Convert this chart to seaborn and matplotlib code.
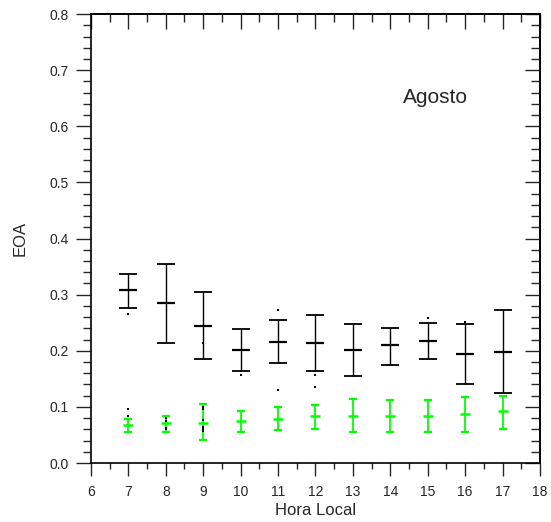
import numpy as np
import pandas as pd
import seaborn as sns
import matplotlib.pyplot as plt
from matplotlib.ticker import MultipleLocator

# hourly EOA for August: mean and error-bar limits
hours = [7, 8, 9, 10, 11, 12, 13, 14, 15, 16, 17]

black_mean = [0.308, 0.285, 0.244, 0.201, 0.216, 0.214, 0.201, 0.210, 0.217, 0.194, 0.197]
black_high = [0.337, 0.355, 0.304, 0.239, 0.254, 0.263, 0.247, 0.241, 0.249, 0.247, 0.272]
black_low = [0.276, 0.214, 0.185, 0.164, 0.178, 0.164, 0.155, 0.175, 0.185, 0.141, 0.124]

green_mean = [0.068, 0.071, 0.072, 0.075, 0.079, 0.083, 0.084, 0.084, 0.084, 0.087, 0.092]
green_high = [0.079, 0.084, 0.105, 0.093, 0.099, 0.104, 0.114, 0.112, 0.112, 0.117, 0.119]
green_low = [0.055, 0.055, 0.041, 0.056, 0.059, 0.061, 0.056, 0.055, 0.055, 0.055, 0.061]

# loose points scattered around the bars
dot_hours = [7, 9, 10, 11, 11, 12, 12, 15, 16,
             7, 7, 8, 8, 8, 8, 9, 9, 9, 9, 9, 9]
dot_values = [0.266, 0.213, 0.156, 0.272, 0.130, 0.156, 0.135, 0.258, 0.251,
              0.096, 0.083, 0.080, 0.075, 0.063, 0.060, 0.100, 0.096, 0.077, 0.065, 0.060, 0.057]

df_black = pd.DataFrame({"hora": hours, "eoa": black_mean})
df_green = pd.DataFrame({"hora": hours, "eoa": green_mean})
df_dots = pd.DataFrame({"hora": dot_hours, "eoa": dot_values})

sns.set_style("ticks")
plt.rcParams["font.family"] = ["Liberation Sans", "DejaVu Sans"]

fig = plt.figure(figsize=(5.51, 5.22), dpi=100)
ax = fig.add_axes([0.165, 0.113, 0.815, 0.860])

#black bars
ax.errorbar(hours, black_mean,
            yerr=[np.subtract(black_mean, black_low), np.subtract(black_high, black_mean)],
            fmt="none", ecolor="black", elinewidth=1.0, capsize=6.2, capthick=1.3)
sns.scatterplot(data=df_black, x="hora", y="eoa", marker="_", s=150, color="black",
                linewidth=1.6, ax=ax, zorder=3)

#green bars
ax.errorbar(hours, green_mean,
            yerr=[np.subtract(green_mean, green_low), np.subtract(green_high, green_mean)],
            fmt="none", ecolor="#00ff00", elinewidth=1.3, capsize=3.2, capthick=1.6)
sns.scatterplot(data=df_green, x="hora", y="eoa", marker="_", s=45, color="#00ff00",
                linewidth=1.8, ax=ax, zorder=3)

sns.scatterplot(data=df_dots, x="hora", y="eoa", marker="s", s=1.5, color="black",
                linewidth=0, ax=ax, zorder=4)

ax.set_xlim(6, 18)
ax.set_ylim(0, 0.8)
ax.xaxis.set_major_locator(MultipleLocator(1))
ax.xaxis.set_minor_locator(MultipleLocator(0.5))
ax.yaxis.set_major_locator(MultipleLocator(0.1))
ax.yaxis.set_minor_locator(MultipleLocator(0.02))
ax.yaxis.set_major_formatter(plt.FuncFormatter(lambda v, p: f"{v:.1f}"))

ax.tick_params(axis="x", which="both", bottom=True, top=False)
ax.tick_params(axis="y", which="both", left=True, right=False)
ax.tick_params(axis="x", which="major", direction="out", length=9.5, width=1.0, labelsize=10, pad=6)
ax.tick_params(axis="x", which="minor", direction="out", length=4.5, width=1.0)
ax.tick_params(axis="y", which="major", direction="out", length=10.8, width=1.0, labelsize=10, pad=5)
ax.tick_params(axis="y", which="minor", direction="out", length=5.8, width=1.0)

#ticks pointing inward on top and right
top = ax.secondary_xaxis("top")
top.xaxis.set_major_locator(MultipleLocator(1))
top.xaxis.set_minor_locator(MultipleLocator(0.5))
top.tick_params(which="both", top=True, labeltop=False)
top.tick_params(which="major", direction="in", length=11, width=1.0)
top.tick_params(which="minor", direction="in", length=5.8, width=1.0)
right = ax.secondary_yaxis("right")
right.yaxis.set_major_locator(MultipleLocator(0.1))
right.yaxis.set_minor_locator(MultipleLocator(0.02))
right.tick_params(which="both", right=True, labelright=False)
right.tick_params(which="major", direction="in", length=10.5, width=1.0)
right.tick_params(which="minor", direction="in", length=6.5, width=1.0)

for a in (ax, top, right):
    for s in a.spines.values():
        s.set_linewidth(1.2)
        s.set_color("black")
for side in ("top", "right"):
    ax.spines[side].set_visible(True)

ax.set_xlabel("Hora Local", fontsize=12, labelpad=3)
ax.set_ylabel("EOA", fontsize=12, labelpad=16)
ax.text(15.2, 0.652, "Agosto", fontsize=15, ha="center", va="center")

plt.savefig("out.png", dpi=100)
